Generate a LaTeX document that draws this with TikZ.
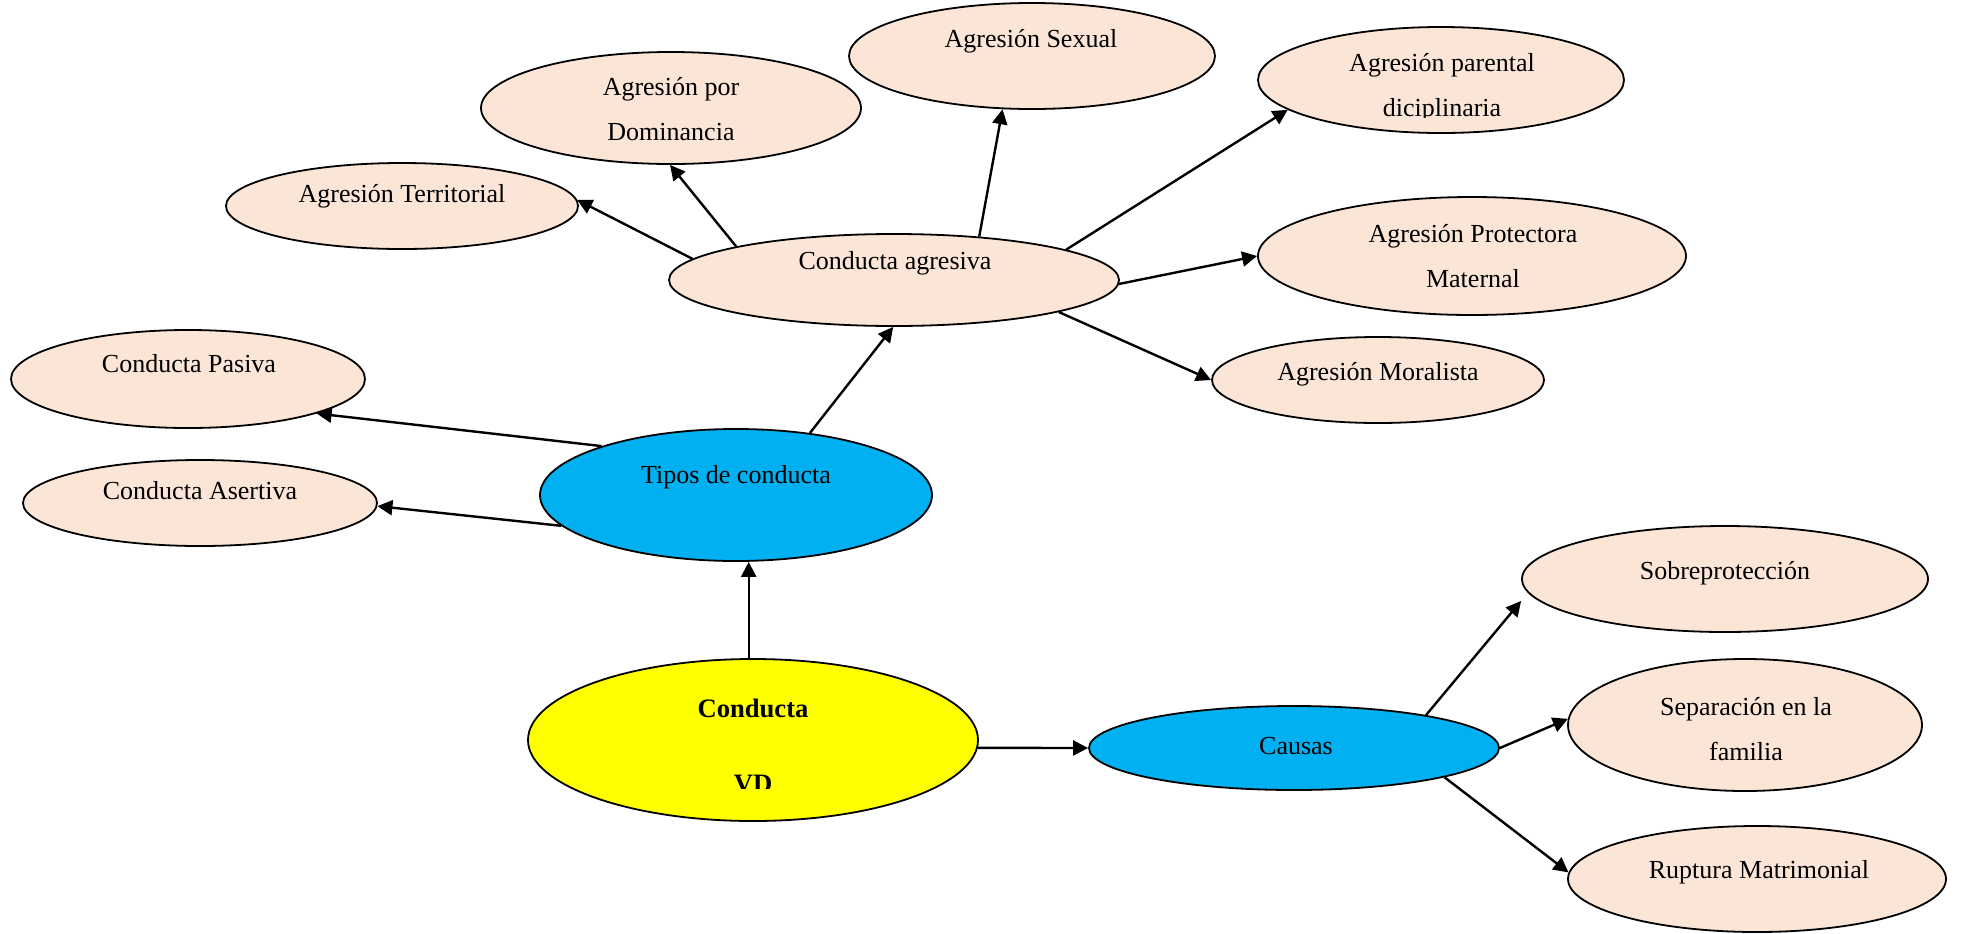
\documentclass[tikz,border=0pt]{standalone}
\usepackage{fontspec}
\setmainfont{Liberation Serif}
\usetikzlibrary{arrows.meta,shapes.geometric}
\definecolor{peach}{HTML}{FBE5D6}
\definecolor{cyanb}{HTML}{00B0F0}
\definecolor{yel}{HTML}{FFFF00}
\begin{document}
\begin{tikzpicture}[x=0.5pt,y=-0.5pt,
 ell/.style={ellipse, draw=black, line width=0.9pt, inner sep=0pt},
 pe/.style={ell, fill=peach},
 cy/.style={ell, fill=cyanb},
 txt/.style={font=\fontsize{13}{22.5}\selectfont, align=center, inner sep=0pt},
 arr/.style={-{Triangle[length=7.5pt,width=7.5pt]}, line width=1.2pt}]
\useasboundingbox (0,0) rectangle (1961,933);
% ellipses
\node[pe, minimum width=176pt, minimum height=43pt] (ter) at (402,206) {};
\node[pe, minimum width=190pt, minimum height=56pt] (dom) at (671,108) {};
\node[pe, minimum width=183pt, minimum height=53pt] (sex) at (1032,56) {};
\node[pe, minimum width=183pt, minimum height=53pt] (par) at (1441,80) {};
\node[pe, minimum width=225pt, minimum height=46pt] (cag) at (894,280) {};
\node[pe, minimum width=214pt, minimum height=59pt] (pro) at (1472,256) {};
\node[pe, minimum width=166pt, minimum height=43pt] (mor) at (1378,380) {};
\node[pe, minimum width=177pt, minimum height=49pt] (pas) at (188,379) {};
\node[pe, minimum width=177pt, minimum height=43pt] (ase) at (200,503) {};
\node[cy, minimum width=196pt, minimum height=66pt] (tip) at (736,495) {};
\node[ell, fill=yel, minimum width=225pt, minimum height=81pt] (vd) at (753,740) {};
\node[cy, minimum width=205pt, minimum height=42pt] (cau) at (1294,748) {};
\node[pe, minimum width=203pt, minimum height=53pt] (sob) at (1725,579) {};
\node[pe, minimum width=177pt, minimum height=66pt] (sep) at (1745,725) {};
\node[pe, minimum width=189pt, minimum height=53pt] (rup) at (1757,879) {};
% texts
\node[txt] (ter-t) at (402,193) {\strut Agresión Territorial};
\node[txt] (dom-t) at (671,108.5) {\strut Agresión por\\\strut Dominancia};
\node[txt] (sex-t) at (1031,38) {\strut Agresión Sexual};
\begin{scope}
\clip (1250,20) rectangle (1640,117);
\node[txt] (par-t) at (1442,84.5) {\strut Agresión parental\\\strut diciplinaria};
\end{scope}
\node[txt] (cag-t) at (895,260) {\strut Conducta agresiva};
\node[txt] (pro-t) at (1473,255.5) {\strut Agresión Protectora\\\strut Maternal};
\node[txt] (mor-t) at (1378,371) {\strut Agresión Moralista};
\node[txt] (pas-t) at (189,363) {\strut Conducta Pasiva};
\node[txt] (ase-t) at (200,490) {\strut Conducta Asertiva};
\node[txt] (tip-t) at (736,474) {\strut Tipos de conducta};
\begin{scope}
\clip (600,680) rectangle (900,788);
\node[txt, font=\fontsize{13.3}{37.5}\selectfont\bfseries] (vd-t) at (753,740) {\strut Conducta\\\strut VD};
\end{scope}
\node[txt] (cau-t) at (1296,745) {\strut Causas};
\node[txt] (sob-t) at (1725,570) {\strut Sobreprotección};
\node[txt] (sep-t) at (1746,728.5) {\strut Separación en la\\\strut familia};
\node[txt] (rup-t) at (1759,869) {\strut Ruptura Matrimonial};
% connectors
\draw[arr] (vd.93) -- (vd.93 |- tip.south);
\draw[arr] (vd.358) -- (cau.180);
\draw[arr] (tip.40) -- (cag.269);
\draw[arr] (tip.160) -- (pas.345);
\draw[arr] (tip.190) -- (ase.359);
\draw[arr] (cag.174) -- (ter.2);
\draw[arr] (cag.168) -- (dom.269);
\draw[arr] (cag.27) -- (sex.241);
\draw[arr] (cag.10) -- (par.191);
\draw[arr] (cag.359) -- (pro.180);
\draw[arr] (cag.349) -- (mor.180);
\draw[arr] (cau.14) -- ([yshift=-11pt]sob.west);
\draw[arr] (cau.0) -- (sep.178);
\draw[arr] (cau.349) -- (rup.178);
\end{tikzpicture}
\end{document}
